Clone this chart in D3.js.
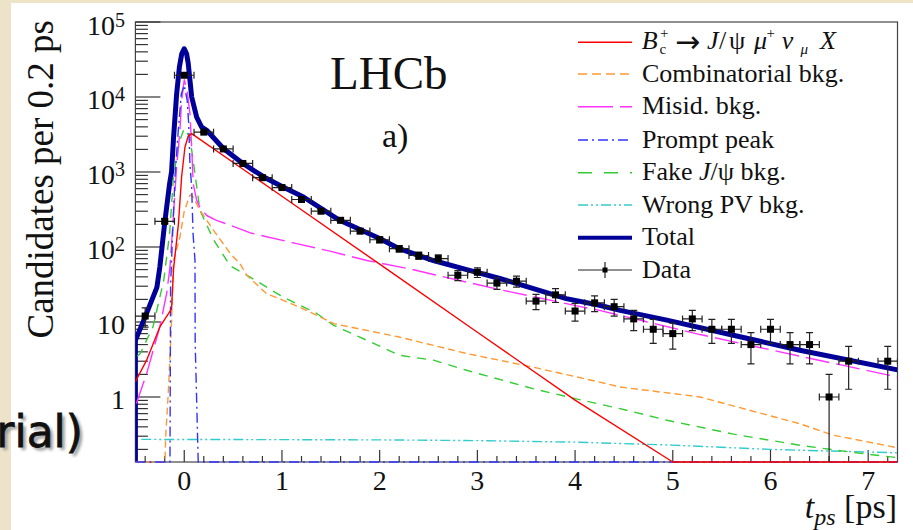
<!DOCTYPE html>
<html><head><meta charset="utf-8">
<script src="https://cdn.jsdelivr.net/npm/d3@7"></script>
<style>body{margin:0;background:#fff}svg{display:block}</style>
</head><body>
<svg id="c" width="913" height="530"></svg>
<script>
// ---------------- data ----------------
const binCenters = [-0.4,-0.2,0.0,0.2,0.4,0.6,0.8,1.0,1.2,1.4,1.6,1.8,2.0,2.2,2.4,2.6,2.8,3.0,3.2,3.4,3.6,3.8,4.0,4.2,4.4,4.6,4.8,5.0,5.2,5.4,5.6,5.8,6.0,6.2,6.4,6.6,6.8,7.0,7.2];
const dataCounts = [12,220,19500,3400,2030,1300,840,620,430,300,227,163,125,95,77,70,42,46,33,35,19,23,14,18,16,11,8,7,11,8,8,5,8,5,5,1,3,0,3];

const sigT = [-0.5,-0.385,-0.25,-0.13,-0.11,-0.06,-0.027,0.007,0.04,0.076,1,2,3,4,5,7.3];
const sigV = [1.6,3.1,8.6,15,50,200,865,2140,2990,3250,475,59,7.3,0.91,0.12,0.01];

const combT = [-0.5,-0.197,-0.19,-0.164,-0.13,-0.11,-0.044,0.0,0.058,0.08,0.16,0.3,0.47,0.57,0.64,0.84,1.18,1.39,1.53,2.2,2.89,3.57,4.25,4.46,5.28,6.3,6.64,7.3];
const combV = [0.01,0.01,0.3,1.1,10,66,136,300,490,490,310,167,82,60,42,24,15.8,11.7,9.5,6.3,3.8,2.5,1.58,1.36,1.0,0.44,0.31,0.21];

const misT = [-0.49,-0.385,-0.25,-0.18,-0.146,-0.078,-0.044,-0.027,0.0,0.03,0.058,0.076,0.092,0.127,0.16,0.23,0.33,0.47,0.67,0.81,1.15,1.49,1.87,2.31,2.55,3.23,4.08,4.25,5.28,6.3,7.3];
const misV = [0.82,2.05,8.6,24,54,1170,3600,9000,17000,12000,6000,2140,700,418,340,263,227,195,155,140,111,88,66,51,43,27,15.8,14.3,6.8,3.5,1.85];

const prT = [-0.5,-0.146,-0.14,-0.13,-0.095,-0.061,-0.03,0.0,0.03,0.045,0.058,0.076,0.09,0.11,0.112,0.143,7.3];
const prV = [0.01,0.01,30,66,865,3600,11000,14300,9000,4500,1300,630,150,66,5.2,0.01,0.01];

const fakeT = [-0.48,-0.45,-0.32,-0.21,-0.15,-0.11,-0.078,-0.044,0.0,0.058,0.092,0.16,0.3,0.47,0.67,1.01,1.36,1.53,1.87,2.2,2.55,2.89,3.57,4.08,4.46,4.94,5.62,6.3,6.81,7.3];
const fakeV = [3.5,3.8,8.6,36,150,865,1590,2670,3790,2900,1400,310,125,56,40,21.5,12.9,9.0,5.7,3.6,3.1,2.27,1.29,0.9,0.7,0.49,0.32,0.227,0.185,0.155];

const wpvT = [-0.44,1,2,3,4,5,6,7.3];
const wpvV = [0.272,0.27,0.268,0.262,0.25,0.228,0.2,0.18];

const totT = [-0.5,-0.5,-0.4,-0.28,-0.25,-0.2,-0.15,-0.13,-0.11,-0.078,-0.05,-0.025,0.0,0.024,0.041,0.076,0.127,0.178,0.23,0.4,0.6,0.81,1.0,1.22,1.59,2.0,2.2,2.55,2.89,3.23,3.91,4.25,4.46,4.94,5.62,6.3,7.3];
const totV = [0.01,5.7,11.7,29,54,210,700,1000,2800,11000,25000,38000,44000,37700,27800,10000,5400,3980,3600,2060,1300,865,640,464,227,130,95,66,50,38,20.5,16.7,14.3,10.6,6.65,4.2,2.3];

const xTickLabels = ["0","1","2","3","4","5","6","7"];
const yMajor = [1,10,100,1000,10000,100000];
const legendLabels = ["B_c^+ → J/ψ μ⁺ ν_μ X","Combinatorial bkg.","Misid. bkg.","Prompt peak","Fake J/ψ bkg.","Wrong PV bkg.","Total","Data"];

// ---------------- layout ----------------
const svg = d3.select('#c');
const W = 913, H = 530;
const P = {l:135.4, r:897.5, t:22, b:462};
const serif = "'Liberation Serif','Times New Roman',serif";

const x = d3.scaleLinear().domain([-0.5, 7.3]).range([P.l, P.r]);
const y = d3.scaleLog().domain([0.1359, 1e5]).range([P.b, P.t]).clamp(true);

// background
svg.append('rect').attr('width',W).attr('height',H).attr('fill','#ece3c9');
svg.append('rect').attr('x',11).attr('y',3).attr('width',W-11).attr('height',H-3).attr('fill','#fff');

// slide text fragment
const defs = svg.append('defs');
defs.append('filter').attr('id','blur').append('feGaussianBlur').attr('stdDeviation',1.5);
defs.append('clipPath').attr('id','plotclip').append('rect')
  .attr('x',P.l).attr('y',P.t).attr('width',P.r-P.l).attr('height',P.b-P.t+1.5);
svg.append('text').attr('x',86).attr('y',450).attr('text-anchor','end')
  .attr('font-family',"'DejaVu Sans',sans-serif").attr('font-size',44)
  .attr('fill','#999').attr('filter','url(#blur)').text('rial)');
svg.append('text').attr('x',83).attr('y',447).attr('text-anchor','end')
  .attr('font-family',"'DejaVu Sans',sans-serif").attr('font-size',44)
  .attr('fill','#111').attr('stroke','#111').attr('stroke-width',0.8).text('rial)');

// frame
svg.append('rect').attr('x',P.l).attr('y',P.t).attr('width',P.r-P.l).attr('height',P.b-P.t)
  .attr('fill','none').attr('stroke','#444').attr('stroke-width',1.2);

// y ticks
const yAll = y.ticks().filter(v => v >= 0.1359 && v <= 1e5);
svg.append('g').selectAll('line').data(yAll).join('line')
  .attr('x1',P.l).attr('x2',d => P.l + (yMajor.includes(d) ? 25 : 12.5))
  .attr('y1',d=>y(d)).attr('y2',d=>y(d)).attr('stroke','#333').attr('stroke-width',1.2);

// x ticks
const xMinor = d3.range(-4, 73, 2).map(v => v/10);
svg.append('g').selectAll('line').data(xMinor).join('line')
  .attr('x1',d=>x(d)).attr('x2',d=>x(d)).attr('y1',P.b)
  .attr('y2',d => P.b - (Math.abs(d - Math.round(d))<1e-6 ? 12 : 6))
  .attr('stroke','#333').attr('stroke-width',1.2);

// x labels
svg.append('g').selectAll('text').data(xTickLabels).join('text')
  .attr('x',d=>x(+d)).attr('y',490).attr('text-anchor','middle')
  .attr('font-family',serif).attr('font-size',28).attr('fill','#111').text(d=>d);

// y labels
const yl = svg.append('g').attr('font-family',serif).attr('fill','#111');
yMajor.forEach(v => {
  const k = Math.round(Math.log10(v));
  const t = yl.append('text').attr('x',125).attr('y',y(v)+12.5).attr('text-anchor','end').attr('font-size',28);
  if (k === 0) t.text('1');
  else if (k === 1) t.text('10');
  else { t.append('tspan').text('10'); t.append('tspan').attr('font-size',20).attr('dy',-8).text(String(k)); }
});

// axis titles
svg.append('text').attr('transform','translate(53,20) rotate(-90)').attr('text-anchor','end')
  .attr('font-family',serif).attr('font-size',37).attr('fill','#111').text('Candidates per 0.2 ps');
const xt = svg.append('text').attr('x',897).attr('y',518).attr('text-anchor','end')
  .attr('font-family',serif).attr('font-size',34).attr('fill','#111');
xt.append('tspan').attr('font-style','italic').text('t');
xt.append('tspan').attr('font-style','italic').attr('font-size',24).attr('dy',7).text('ps');
xt.append('tspan').attr('dy',-7).text(' [ps]');

// LHCb, a)
svg.append('text').attr('x',330).attr('y',89).attr('font-family',serif).attr('font-size',47).attr('fill','#111').text('LHCb');
svg.append('text').attr('x',382).attr('y',147).attr('font-family',serif).attr('font-size',34).attr('fill','#111').text('a)');

// curves
const line = d3.line().x(d=>x(d[0])).y(d=>y(d[1]));
const curves = svg.append('g').attr('clip-path','url(#plotclip)');
const series = [
  {t:totT, v:totV, c:'#000099', w:5, dash:null},
  {t:wpvT, v:wpvV, c:'#33cccc', w:1.4, dash:'10,3,2,3,2,3'},
  {t:fakeT, v:fakeV, c:'#33cc33', w:1.4, dash:'9,7'},
  {t:combT, v:combV, c:'#ff9933', w:1.4, dash:'7,4'},
  {t:misT, v:misV, c:'#ff33ff', w:1.4, dash:'24,7'},
  {t:prT, v:prV, c:'#3333ff', w:1.4, dash:'10,4,2,4'},
  {t:sigT, v:sigV, c:'#ff0000', w:1.4, dash:null}
];
series.forEach(s => {
  curves.append('path').datum(s.t.map((t,i)=>[t,s.v[i]]))
    .attr('d',line).attr('fill','none').attr('stroke',s.c).attr('stroke-width',s.w)
    .attr('stroke-dasharray',s.dash).attr('stroke-linejoin','round');
});

// data points
const pts = binCenters.map((t,i)=>({t, n:dataCounts[i]})).filter(d=>d.n>0);
const dg = svg.append('g').attr('clip-path','url(#plotclip)').attr('stroke','#222').attr('stroke-width',1.2);
pts.forEach(d => {
  const cx = x(d.t), cy = y(d.n), e = Math.sqrt(d.n);
  const x0 = x(d.t-0.1), x1 = x(d.t+0.1), y0 = y(Math.max(d.n-e,1e-3)), y1 = y(d.n+e);
  dg.append('line').attr('x1',x0).attr('x2',x1).attr('y1',cy).attr('y2',cy);
  dg.append('line').attr('x1',x0).attr('x2',x0).attr('y1',cy-3.5).attr('y2',cy+3.5);
  dg.append('line').attr('x1',x1).attr('x2',x1).attr('y1',cy-3.5).attr('y2',cy+3.5);
  dg.append('line').attr('x1',cx).attr('x2',cx).attr('y1',y0).attr('y2',y1);
  dg.append('line').attr('x1',cx-3.5).attr('x2',cx+3.5).attr('y1',y1).attr('y2',y1);
  if (y0 < P.b - 1) dg.append('line').attr('x1',cx-3.5).attr('x2',cx+3.5).attr('y1',y0).attr('y2',y0);
  dg.append('rect').attr('x',cx-3.5).attr('y',cy-3.5).attr('width',7).attr('height',7).attr('fill','#000').attr('stroke','none');
});

// legend
const LX0 = 578, LX1 = 632, TX = 642;
const legendY = [42.3,74,106.7,140,172.7,205,237.7,270];
const legStyles = [
  {c:'#ff0000', w:1.4, dash:null},
  {c:'#ff9933', w:1.4, dash:'9,5'},
  {c:'#ff33ff', w:1.4, dash:'35,7'},
  {c:'#3333ff', w:1.4, dash:'10,4,2,4'},
  {c:'#33cc33', w:1.4, dash:'14,12'},
  {c:'#33cccc', w:1.4, dash:'10,3,2,3,2,3'},
  {c:'#000099', w:4, dash:null},
  {c:'#222', w:1.2, dash:null}
];
const lg = svg.append('g');
legStyles.forEach((s,i) => {
  const yy = legendY[i];
  lg.append('line').attr('x1',LX0).attr('x2',LX1).attr('y1',yy).attr('y2',yy)
    .attr('stroke',s.c).attr('stroke-width',s.w).attr('stroke-dasharray',s.dash);
  if (i === 7) {
    const mx = (LX0+LX1)/2;
    lg.append('line').attr('x1',mx).attr('x2',mx).attr('y1',yy-8).attr('y2',yy+8).attr('stroke','#222').attr('stroke-width',1.2);
    lg.append('rect').attr('x',mx-2.5).attr('y',yy-2.5).attr('width',5).attr('height',5).attr('fill','#000');
  }
  if (i > 0) {
    const t = lg.append('text').attr('x',TX).attr('y',yy+7.5).attr('font-family',serif).attr('font-size',26).attr('fill','#111');
    if (i === 4) {
      t.append('tspan').text('Fake ');
      t.append('tspan').attr('font-style','italic').text('J');
      t.append('tspan').text('/ψ bkg.');
    } else t.text(legendLabels[i]);
  }
});
// first legend entry: B_c^+ -> J/psi mu+ nu_mu X
const by = 48.5;
const e1 = lg.append('g').attr('font-family',serif).attr('fill','#111');
e1.append('text').attr('x',641.7).attr('y',by).attr('font-size',26).attr('font-style','italic').text('B');
e1.append('text').attr('x',659.5).attr('y',53.5).attr('font-size',15).text('c');
e1.append('text').attr('x',660).attr('y',38).attr('font-size',15).text('+');
e1.append('text').attr('x',675).attr('y',51.5).attr('font-size',30).attr('font-family',"'DejaVu Sans',sans-serif").text('→');
e1.append('text').attr('x',707).attr('y',by).attr('font-size',26).attr('font-style','italic').text('J');
e1.append('text').attr('x',719).attr('y',by).attr('font-size',26).text('/');
e1.append('text').attr('x',729).attr('y',by).attr('font-size',26).text('ψ');
e1.append('text').attr('x',754).attr('y',by).attr('font-size',26).attr('font-style','italic').text('μ');
e1.append('text').attr('x',766.5).attr('y',38).attr('font-size',15).text('+');
e1.append('text').attr('x',781.7).attr('y',by).attr('font-size',26).attr('font-style','italic').text('ν');
e1.append('text').attr('x',800.5).attr('y',54).attr('font-size',15).attr('font-style','italic').text('μ');
e1.append('text').attr('x',820).attr('y',by).attr('font-size',26).attr('font-style','italic').text('X');
</script>
</body></html>
